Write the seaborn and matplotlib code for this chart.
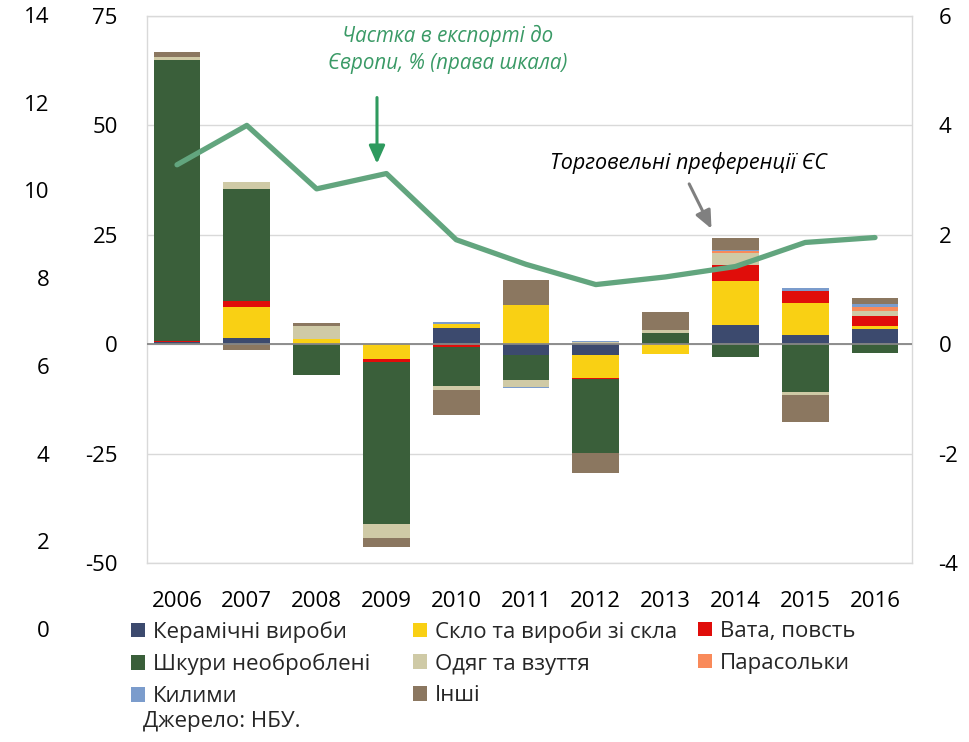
import numpy as np
import pandas as pd
import seaborn as sns
import matplotlib.pyplot as plt
from matplotlib.patches import Patch

# contributions to export growth, p.p. (left axis)
years = ['2006', '2007', '2008', '2009', '2010', '2011', '2012', '2013', '2014', '2015', '2016']
ceramics = [0.4, 1.4, 0, 0, 3.7, -2.5, -2.5, 0, 4.4, 2.15, 3.45]
glass = [0, 7.2, 1.2, -3.4, 0.9, 9.0, -5.3, -2.3, 10.1, 7.3, 0.75]
wool = [0.35, 1.25, 0, -0.75, -0.75, 0, -0.2, 0, 3.7, 2.75, 2.2]
hides = [64.2, 25.6, -7.0, -36.9, -8.8, -5.6, -16.8, 2.45, -3.0, -11.0, -2.0]
clothes = [0.6, 1.7, 3.0, -3.3, -1.0, -1.7, 0.4, 0.75, 2.75, -0.6, 1.2]
umbrellas = [0, 0, 0, 0, 0, 0, 0, 0, 0.3, 0, 1.0]
carpets = [0, 0, 0, 0, 0.4, -0.3, 0.3, 0, 0.25, 0.55, 0.5]
other = [1.15, -1.3, 0.55, -2.05, -5.7, 5.7, -4.6, 4.05, 2.8, -6.1, 1.4]

# share of exports to Europe, % (right axis)
share_eu = [3.28, 4.0, 2.84, 3.12, 1.91, 1.46, 1.09, 1.23, 1.42, 1.86, 1.95]

names = ['Керамічні вироби', 'Скло та вироби зі скла', 'Вата, повсть',
         'Шкури необроблені', 'Одяг та взуття', 'Парасольки', 'Килими', 'Інші']
series = [ceramics, glass, wool, hides, clothes, umbrellas, carpets, other]
colors = ['#3c4a6e', '#f9d014', '#e00d0a', '#3a5f3a', '#cfcaa6', '#f98a5a', '#7b9ccc', '#8b7760']

sns.set_theme(style='white')
plt.rcParams['font.family'] = ['Open Sans', 'DejaVu Sans']

W, H = 970, 742
fig = plt.figure(figsize=(W / 100, H / 100), dpi=100)
ax = fig.add_axes([147 / W, 1 - 563 / H, 765 / W, 547 / H])

pos_base = np.zeros(len(years))
neg_base = np.zeros(len(years))
for name, vals, col in zip(names, series, colors):
    v = np.array(vals, dtype=float)
    bottom = np.where(v >= 0, pos_base, neg_base)
    df = pd.DataFrame({'year': years, 'value': v})
    sns.barplot(data=df, x='year', y='value', bottom=bottom, color=col, width=0.67,
                saturation=1, errorbar=None, linewidth=0, ax=ax, zorder=2)
    pos_base += np.where(v > 0, v, 0)
    neg_base += np.where(v < 0, v, 0)

ax.set_xlim(-0.43, 10.53)
ax.set_ylim(-50, 75)
ax.set_yticks([-50, -25, 0, 25, 50, 75])
ax.set_yticklabels(['-50', '-25', '0', '25', '50', '75'])
ax.yaxis.grid(True, color='#d9d9d9', lw=1)
ax.set_axisbelow(True)
ax.axhline(0, color='#868686', lw=1.3, zorder=3)
for s in ax.spines.values():
    s.set_color('#d9d9d9')
    s.set_linewidth(1)
ax.tick_params(axis='y', length=0, pad=21, labelsize=16, labelcolor='black')
ax.tick_params(axis='x', length=0, pad=20, labelsize=16, labelcolor='black')
ax.set_xlabel('')
ax.set_ylabel('')

ax2 = ax.twinx()
sns.lineplot(x=np.arange(len(years)), y=share_eu, ax=ax2, color='#62a57e', linewidth=3.8)
ax2.set_ylim(-4, 6)
ax2.set_yticks([-4, -2, 0, 2, 4, 6])
ax2.set_yticklabels(['-4', '-2', '0', '2', '4', '6'])
ax2.tick_params(axis='y', length=0, pad=19, labelsize=16, labelcolor='black')
ax2.set_xlim(-0.43, 10.53)
ax2.grid(False)
for s in ax2.spines.values():
    s.set_visible(False)
ax2.set_ylabel('')

# annotations
ax.text(3.88, 67.3, 'Частка в експорті до\nЄвропи, % (права шкала)', ha='center', va='center',
        fontsize=14.8, style='italic', color='#3a9a66', linespacing=1.35, zorder=5)
ax.annotate('', xy=(2.865, 40.6), xytext=(2.865, 57.0),
            arrowprops=dict(arrowstyle='-|>,head_length=0.9,head_width=0.4', color='#2e9a5e', lw=2.2),
            zorder=5)
ax.text(7.33, 41.5, 'Торговельні преференції ЄС', ha='center', va='center',
        fontsize=15.5, style='italic', color='black', zorder=5)
ax.annotate('', xy=(7.675, 25.8), xytext=(7.32, 37.2),
            arrowprops=dict(arrowstyle='-|>,head_length=0.9,head_width=0.4', color='#808080', lw=2.2),
            zorder=5)

# stray scale on the far left
ax0 = fig.add_axes([58 / W, 1 - 629 / H, 0.001, 614 / H])
ax0.set_ylim(0, 14)
ax0.set_yticks(range(0, 15, 2))
ax0.set_xticks([])
ax0.patch.set_visible(False)
for s in ax0.spines.values():
    s.set_visible(False)
ax0.tick_params(axis='y', length=0, pad=6, labelsize=16, labelcolor='black')

# legend in three columns
handles = {n: Patch(facecolor=c, edgecolor='none') for n, c in zip(names, colors)}
columns = [(['Керамічні вироби', 'Шкури необроблені', 'Килими'], 131),
           (['Скло та вироби зі скла', 'Одяг та взуття', 'Інші'], 413),
           (['Вата, повсть', 'Парасольки'], 698)]
for labels, x0 in columns:
    fig.legend([handles[l] for l in labels], labels, loc='upper left',
               bbox_to_anchor=(x0 / W, 1 - 621 / H), frameon=False, fontsize=16,
               borderpad=0, borderaxespad=0, handlelength=0.63, handleheight=0.63,
               handletextpad=0.35, labelspacing=0.48)

fig.text(143 / W, 1 - 722 / H, 'Джерело: НБУ.', fontsize=16, va='center', ha='left')

fig.savefig('out.png', dpi=100)
